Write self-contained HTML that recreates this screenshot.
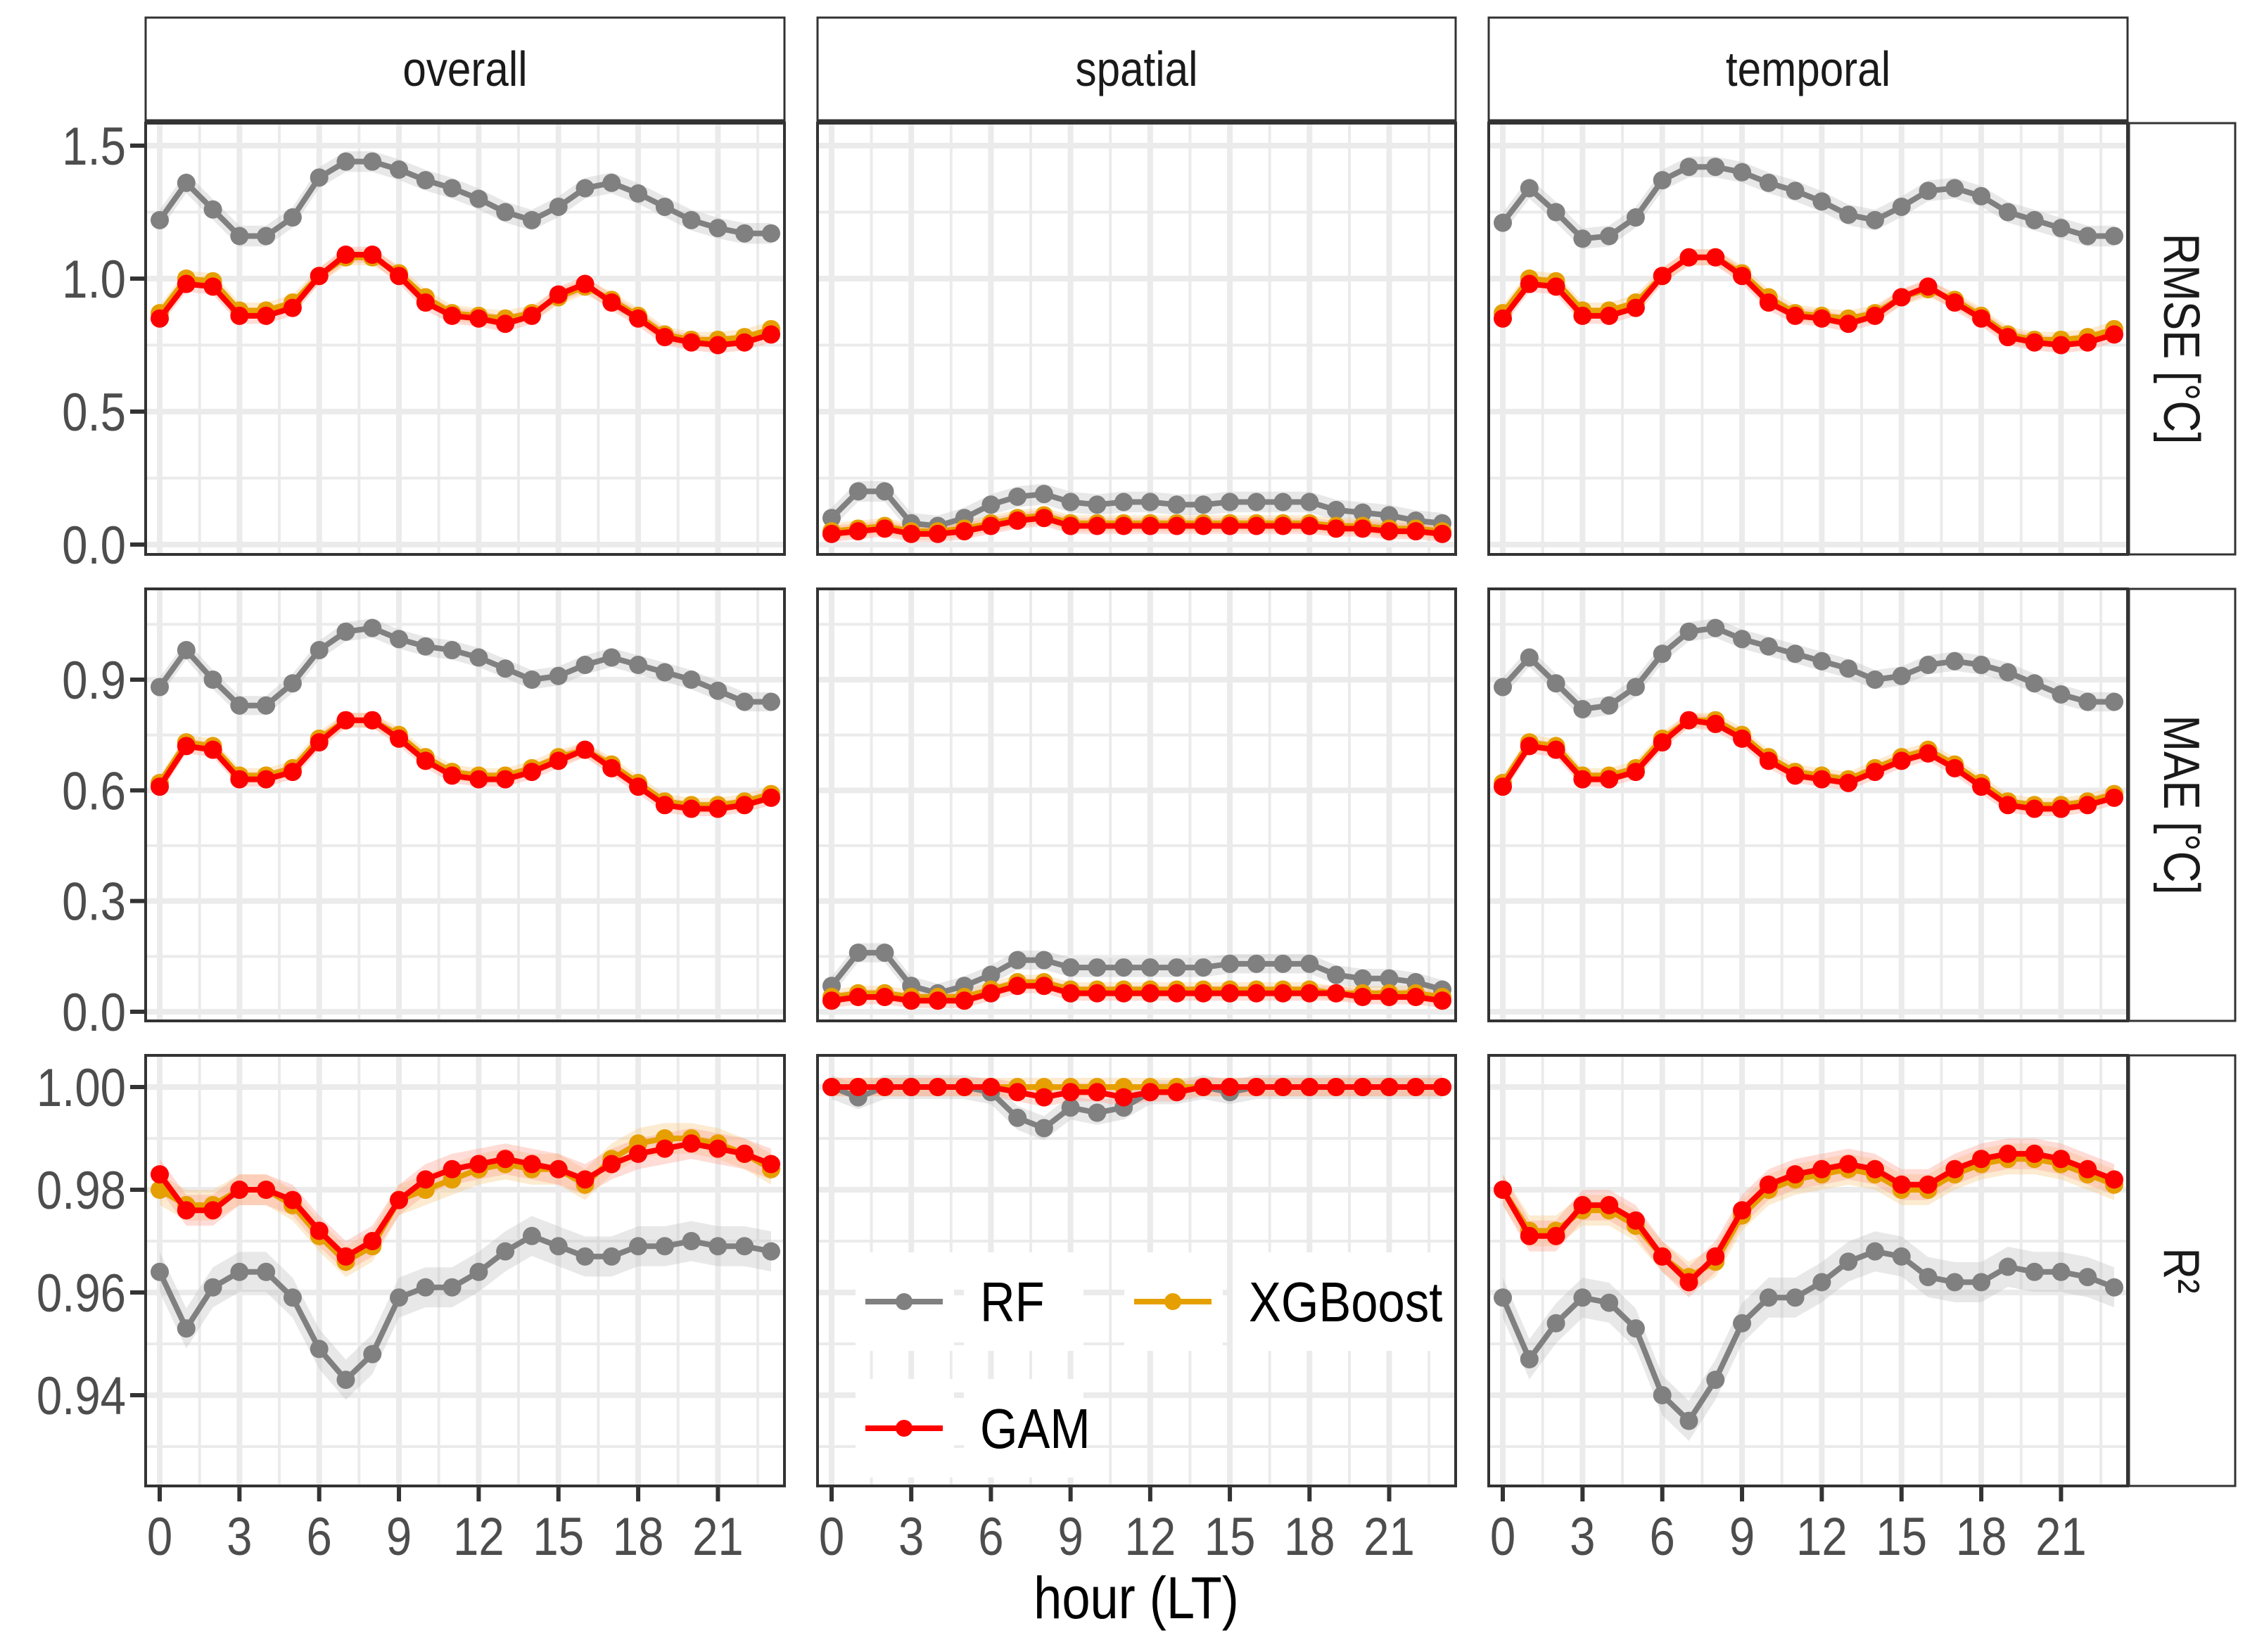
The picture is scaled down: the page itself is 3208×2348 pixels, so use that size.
<!DOCTYPE html>
<html><head><meta charset="utf-8"><style>
html,body{margin:0;padding:0;background:#fff;}
svg{display:block;font-family:"Liberation Sans",sans-serif;}
</style></head><body>
<svg id="chart" width="3208" height="2348" viewBox="0 0 3208 2348" xmlns="http://www.w3.org/2000/svg"></svg>
<script>
const hours=[0,1,2,3,4,5,6,7,8,9,10,11,12,13,14,15,16,17,18,19,20,21,22,23];
const xTicks=[0,3,6,9,12,15,18,21];
const cols=["overall","spatial","temporal"];
const rowLabels=["RMSE [°C]","MAE [°C]","R²"];
const models=["RF","XGBoost","GAM"];
// RMSE
const rmseOverallRF=[1.22,1.36,1.26,1.16,1.16,1.23,1.38,1.44,1.44,1.41,1.37,1.34,1.30,1.25,1.22,1.27,1.34,1.36,1.32,1.27,1.22,1.19,1.17,1.17];
const rmseOverallXGB=[0.87,1.0,0.99,0.88,0.88,0.91,1.01,1.08,1.08,1.02,0.93,0.87,0.86,0.85,0.87,0.93,0.97,0.92,0.86,0.79,0.77,0.77,0.78,0.81];
const rmseOverallGAM=[0.85,0.98,0.97,0.86,0.86,0.89,1.01,1.09,1.09,1.01,0.91,0.86,0.85,0.83,0.86,0.94,0.98,0.91,0.85,0.78,0.76,0.75,0.76,0.79];
const rmseSpatialRF=[0.10,0.20,0.20,0.08,0.07,0.10,0.15,0.18,0.19,0.16,0.15,0.16,0.16,0.15,0.15,0.16,0.16,0.16,0.16,0.13,0.12,0.11,0.09,0.08];
const rmseSpatialXGB=[0.05,0.06,0.07,0.05,0.05,0.06,0.08,0.10,0.11,0.08,0.08,0.08,0.08,0.08,0.08,0.08,0.08,0.08,0.08,0.07,0.07,0.06,0.06,0.05];
const rmseSpatialGAM=[0.04,0.05,0.06,0.04,0.04,0.05,0.07,0.09,0.10,0.07,0.07,0.07,0.07,0.07,0.07,0.07,0.07,0.07,0.07,0.06,0.06,0.05,0.05,0.04];
const rmseTemporalRF=[1.21,1.34,1.25,1.15,1.16,1.23,1.37,1.42,1.42,1.40,1.36,1.33,1.29,1.24,1.22,1.27,1.33,1.34,1.31,1.25,1.22,1.19,1.16,1.16];
const rmseTemporalXGB=[0.87,1.0,0.99,0.88,0.88,0.91,1.01,1.08,1.08,1.02,0.93,0.87,0.86,0.85,0.87,0.93,0.96,0.92,0.86,0.79,0.77,0.77,0.78,0.81];
const rmseTemporalGAM=[0.85,0.98,0.97,0.86,0.86,0.89,1.01,1.08,1.08,1.01,0.91,0.86,0.85,0.83,0.86,0.93,0.97,0.91,0.85,0.78,0.76,0.75,0.76,0.79];
// MAE
const maeOverallRF=[0.88,0.98,0.90,0.83,0.83,0.89,0.98,1.03,1.04,1.01,0.99,0.98,0.96,0.93,0.90,0.91,0.94,0.96,0.94,0.92,0.90,0.87,0.84,0.84];
const maeOverallXGB=[0.62,0.73,0.72,0.64,0.64,0.66,0.74,0.79,0.79,0.75,0.69,0.65,0.64,0.64,0.66,0.69,0.71,0.67,0.62,0.57,0.56,0.56,0.57,0.59];
const maeOverallGAM=[0.61,0.72,0.71,0.63,0.63,0.65,0.73,0.79,0.79,0.74,0.68,0.64,0.63,0.63,0.65,0.68,0.71,0.66,0.61,0.56,0.55,0.55,0.56,0.58];
const maeSpatialRF=[0.07,0.16,0.16,0.07,0.05,0.07,0.10,0.14,0.14,0.12,0.12,0.12,0.12,0.12,0.12,0.13,0.13,0.13,0.13,0.10,0.09,0.09,0.08,0.06];
const maeSpatialXGB=[0.04,0.05,0.05,0.04,0.04,0.04,0.06,0.08,0.08,0.06,0.06,0.06,0.06,0.06,0.06,0.06,0.06,0.06,0.06,0.05,0.05,0.05,0.05,0.04];
const maeSpatialGAM=[0.03,0.04,0.04,0.03,0.03,0.03,0.05,0.07,0.07,0.05,0.05,0.05,0.05,0.05,0.05,0.05,0.05,0.05,0.05,0.05,0.04,0.04,0.04,0.03];
const maeTemporalRF=[0.88,0.96,0.89,0.82,0.83,0.88,0.97,1.03,1.04,1.01,0.99,0.97,0.95,0.93,0.90,0.91,0.94,0.95,0.94,0.92,0.89,0.86,0.84,0.84];
const maeTemporalXGB=[0.62,0.73,0.72,0.64,0.64,0.66,0.74,0.79,0.79,0.75,0.69,0.65,0.64,0.63,0.66,0.69,0.71,0.67,0.62,0.57,0.56,0.56,0.57,0.59];
const maeTemporalGAM=[0.61,0.72,0.71,0.63,0.63,0.65,0.73,0.79,0.78,0.74,0.68,0.64,0.63,0.62,0.65,0.68,0.70,0.66,0.61,0.56,0.55,0.55,0.56,0.58];
// R2
const r2OverallRF=[0.964,0.953,0.961,0.964,0.964,0.959,0.949,0.943,0.948,0.959,0.961,0.961,0.964,0.968,0.971,0.969,0.967,0.967,0.969,0.969,0.970,0.969,0.969,0.968];
const r2OverallXGB=[0.980,0.977,0.977,0.980,0.980,0.977,0.971,0.966,0.969,0.978,0.980,0.982,0.984,0.985,0.984,0.984,0.981,0.986,0.989,0.990,0.990,0.989,0.987,0.984];
const r2OverallGAM=[0.983,0.976,0.976,0.980,0.980,0.978,0.972,0.967,0.970,0.978,0.982,0.984,0.985,0.986,0.985,0.984,0.982,0.985,0.987,0.988,0.989,0.988,0.987,0.985];
const r2SpatialRF=[1.0,0.998,1.0,1.0,1.0,1.0,0.999,0.994,0.992,0.996,0.995,0.996,0.999,0.999,1.0,0.999,1.0,1.0,1.0,1.0,1.0,1.0,1.0,1.0];
const r2SpatialXGB=[1.0,1.0,1.0,1.0,1.0,1.0,1.0,1.0,1.0,1.0,1.0,1.0,1.0,1.0,1.0,1.0,1.0,1.0,1.0,1.0,1.0,1.0,1.0,1.0];
const r2SpatialGAM=[1.0,1.0,1.0,1.0,1.0,1.0,1.0,0.999,0.998,0.999,0.999,0.998,0.999,0.999,1.0,1.0,1.0,1.0,1.0,1.0,1.0,1.0,1.0,1.0];
const r2TemporalRF=[0.959,0.947,0.954,0.959,0.958,0.953,0.940,0.935,0.943,0.954,0.959,0.959,0.962,0.966,0.968,0.967,0.963,0.962,0.962,0.965,0.964,0.964,0.963,0.961];
const r2TemporalXGB=[0.980,0.972,0.972,0.976,0.976,0.973,0.967,0.963,0.966,0.975,0.980,0.982,0.983,0.984,0.983,0.980,0.980,0.983,0.985,0.986,0.986,0.985,0.983,0.981];
const r2TemporalGAM=[0.980,0.971,0.971,0.977,0.977,0.974,0.967,0.962,0.967,0.976,0.981,0.983,0.984,0.985,0.984,0.981,0.981,0.984,0.986,0.987,0.987,0.986,0.984,0.982];
const rmseTicks=[0.0,0.5,1.0,1.5];
const rmseTickLabels=["0.0","0.5","1.0","1.5"];
const maeTicks=[0.0,0.3,0.6,0.9];
const maeTickLabels=["0.0","0.3","0.6","0.9"];
const r2Ticks=[0.94,0.96,0.98,1.00];
const r2TickLabels=["0.94","0.96","0.98","1.00"];

const NS="http://www.w3.org/2000/svg";
const svg=document.getElementById('chart');
function mk(tag,attrs,parent){const e=document.createElementNS(NS,tag);for(const k in attrs)e.setAttribute(k,attrs[k]);(parent||svg).appendChild(e);return e;}
const SX=0.86;
function txt(parent,x,y,size,anchor,fill,str,rot){
  const tr=`translate(${x} ${y})`+(rot?` rotate(${rot})`:'')+` scale(${SX} 1)`;
  const t=mk('text',{x:0,y:0,"font-size":size,"text-anchor":anchor,fill:fill,transform:tr},parent);
  t.textContent=str;return t;
}

const colX=[[207,1115],[1162,2069],[2116,3024]];
const rowY=[[175,788],[837,1451],[1500,2112]];
const rowScale=[
 {v0:0,p0:774,v1:1.5,p1:207,ticks:rmseTicks,labels:rmseTickLabels,band:0.03},
 {v0:0,p0:1438,v1:0.9,p1:966,ticks:maeTicks,labels:maeTickLabels,band:0.02},
 {v0:0.94,p0:1983,v1:1.0,p1:1545,ticks:r2Ticks,labels:r2TickLabels,band:0.003}
];
const dataSets=[
 [[rmseOverallRF,rmseOverallXGB,rmseOverallGAM],[rmseSpatialRF,rmseSpatialXGB,rmseSpatialGAM],[rmseTemporalRF,rmseTemporalXGB,rmseTemporalGAM]],
 [[maeOverallRF,maeOverallXGB,maeOverallGAM],[maeSpatialRF,maeSpatialXGB,maeSpatialGAM],[maeTemporalRF,maeTemporalXGB,maeTemporalGAM]],
 [[r2OverallRF,r2OverallXGB,r2OverallGAM],[r2SpatialRF,r2SpatialXGB,r2SpatialGAM],[r2TemporalRF,r2TemporalXGB,r2TemporalGAM]]
];
const colors=["#808080","#E69F00","#FF0000"];
const bandColors=["#bdbdbd","#f5c77a","#ff9a8a"];

cols.forEach((c,ci)=>{
  const g=mk('g',{});
  
  
  mk('rect',{x:colX[ci][0],y:25,width:colX[ci][1]-colX[ci][0],height:148,fill:'#fff',stroke:'#333',"stroke-width":3},g);
  mk('line',{x1:colX[ci][0],x2:colX[ci][1],y1:173,y2:173,stroke:'#333',"stroke-width":7},g);
  txt(g,(colX[ci][0]+colX[ci][1])/2,122,70,"middle","#1a1a1a",c);
});
rowLabels.forEach((lab,ri)=>{
  const g=mk('g',{});
  
  
  mk('rect',{x:3024,y:rowY[ri][0],width:153,height:rowY[ri][1]-rowY[ri][0],fill:'#fff',stroke:'#333',"stroke-width":3},g);
  mk('line',{x1:3024,x2:3024,y1:rowY[ri][0],y2:rowY[ri][1],stroke:'#333',"stroke-width":7},g);
  const cy=(rowY[ri][0]+rowY[ri][1])/2;
  txt(g,3076,cy,72,"middle","#1a1a1a",lab,90);
});

for(let ri=0;ri<3;ri++){
  const S=rowScale[ri];
  const Y=v=>S.p0+(v-S.v0)*(S.p1-S.p0)/(S.v1-S.v0);
  const [top,bot]=rowY[ri];
  for(let ci=0;ci<3;ci++){
    const [l,r]=colX[ci];
    const X=h=>l+20+h*(r-l-39)/23;
    const g=mk('g',{});
    
    
    const clipId='clip'+ri+ci;
    const cp=mk('clipPath',{id:clipId},g);mk('rect',{x:l,y:top,width:r-l,height:bot-top},cp);
    const inner=mk('g',{"clip-path":`url(#${clipId})`},g);
    mk('rect',{x:l,y:top,width:r-l,height:bot-top,fill:'#fff'},inner);
    const step=S.ticks[1]-S.ticks[0];
    for(let v=S.ticks[0]-step/2;v<=S.ticks[S.ticks.length-1]+step;v+=step){
      const y=Y(v); if(y>top&&y<bot) mk('line',{x1:l,x2:r,y1:y,y2:y,stroke:'#ebebeb',"stroke-width":4},inner);
    }
    xTicks.forEach(h=>mk('line',{x1:X(h+1.5),x2:X(h+1.5),y1:top,y2:bot,stroke:'#ebebeb',"stroke-width":4},inner));
    mk('line',{x1:X(-1.5),x2:X(-1.5),y1:top,y2:bot,stroke:'#ebebeb',"stroke-width":4},inner);
    S.ticks.forEach(v=>mk('line',{x1:l,x2:r,y1:Y(v),y2:Y(v),stroke:'#ebebeb',"stroke-width":8},inner));
    xTicks.forEach(h=>mk('line',{x1:X(h),x2:X(h),y1:top,y2:bot,stroke:'#ebebeb',"stroke-width":8},inner));
    if(ri===2&&ci===1){
      const lg=mk('g',{},inner);
      
      
      const items=[[0,"RF",1230,1850],[1,"XGBoost",1612,1850],[2,"GAM",1230,2030]];
      items.forEach(([mi,name,kx,ky])=>{
        const e=mk('g',{},lg);
        
        
        mk('rect',{x:kx-14,y:ky-70,width:140,height:140,fill:'#fff'},e);
        mk('rect',{x:kx+140,y:ky-70,width:name==="XGBoost"?440:170,height:140,fill:'#fff'},e);
        mk('line',{x1:kx,x2:kx+110,y1:ky,y2:ky,stroke:colors[mi],"stroke-width":8},e);
        mk('circle',{cx:kx+55,cy:ky,r:12,fill:colors[mi]},e);
        txt(e,kx+163,ky+28,80,"start","#000",name);
      });
    }
    const series=dataSets[ri][ci];
    series.forEach((vals,mi)=>{
      const w=S.band*(mi===0?1.3:1)*(ri===2&&ci===1?0.6:1);
      let d='';
      hours.forEach((h,i)=>{d+=(i?'L':'M')+X(h)+','+Y(vals[i]+w);});
      for(let i=hours.length-1;i>=0;i--)d+='L'+X(hours[i])+','+Y(vals[i]-w);
      const p=mk('path',{d:d+'Z',fill:bandColors[mi],opacity:0.35},inner);
      
      
    });
    series.forEach((vals,mi)=>{
      const pts=hours.map((h,i)=>X(h)+','+Y(vals[i])).join(' ');
      const pl=mk('polyline',{points:pts,fill:'none',stroke:colors[mi],"stroke-width":8,"stroke-linejoin":"round"},inner);
      
      
      hours.forEach((h,i)=>{
        const c=mk('circle',{cx:X(h),cy:Y(vals[i]),r:13,fill:colors[mi]},inner);
        
        
      });
    });
    mk('rect',{x:l,y:top,width:r-l,height:bot-top,fill:'none',stroke:'#333',"stroke-width":4},g);
    if(ci===0){
      S.ticks.forEach((v,k)=>{
        mk('line',{x1:l-22,x2:l,y1:Y(v),y2:Y(v),stroke:'#333',"stroke-width":6},g);
        txt(g,l-28,Y(v)+27,76,"end","#4d4d4d",S.labels[k]);
      });
    }
    if(ri===2){
      xTicks.forEach(h=>{
        mk('line',{x1:X(h),x2:X(h),y1:bot,y2:bot+22,stroke:'#333',"stroke-width":6},g);
        txt(g,X(h),2210,76,"middle","#4d4d4d",String(h));
      });
    }
  }
}
const xtg=mk('g',{});


txt(xtg,1615,2300,84,"middle","#000",'hour (LT)');
</script>
</body></html>
